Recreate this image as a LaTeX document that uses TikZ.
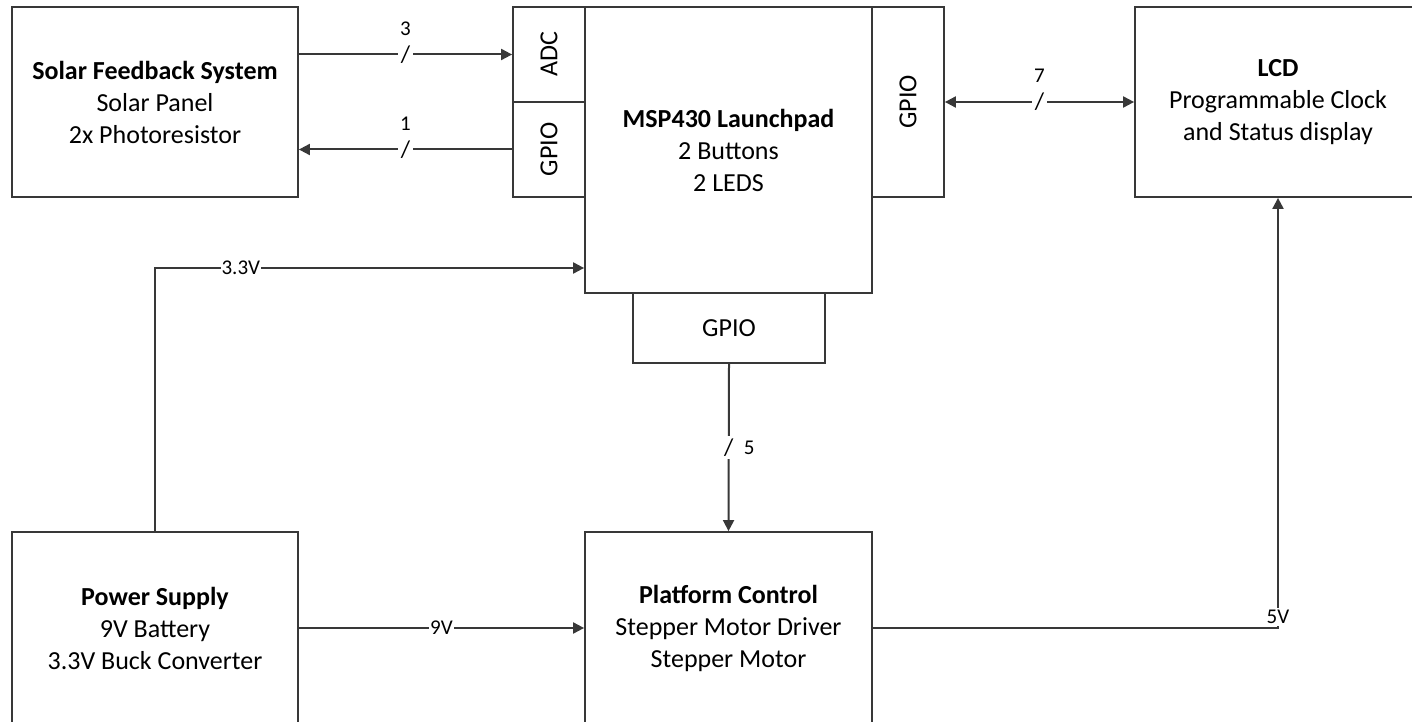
\documentclass[tikz,border=0pt]{standalone}
\usepackage{fontspec}
\setmainfont{Carlito}
\usetikzlibrary{arrows.meta}
\begin{document}
\begin{tikzpicture}[x=1pt,y=-1pt,
  blk/.style={draw=black!78, line width=1.8pt, fill=white, inner sep=0pt, align=center,
    font=\fontsize{26}{32}\selectfont},
  side/.style={blk, rotate=90},
  conn/.style={draw=black!78, line width=2pt},
  arr/.style={conn, -{Triangle[length=11pt,width=11pt]}},
  darr/.style={conn, {Triangle[length=11pt,width=11pt]}-{Triangle[length=11pt,width=11pt]}},
  lbl/.style={font=\fontsize{21}{24}\selectfont, inner sep=1pt},
  cut/.style={lbl, fill=white, inner xsep=3pt, inner ysep=1pt},
  slsh/.style={fill=white, inner xsep=3pt, inner ysep=0pt, font=\fontsize{24}{26}\selectfont}]
\useasboundingbox (0,0) rectangle (1412,722);
\clip (0,0) rectangle (1412,722);
% blocks
\node[blk, minimum width=286pt, minimum height=190pt] (solar) at (155,102)
  {\textbf{Solar Feedback System}\\Solar Panel\\2x Photoresistor};
\node[blk, minimum width=287pt, minimum height=286pt] (msp) at (728.5,150)
  {\textbf{MSP430 Launchpad}\\2 Buttons\\2 LEDS};
\node[side, minimum width=95pt, minimum height=72pt] (adc) at (549,54.5) {ADC};
\node[side, minimum width=95pt, minimum height=72pt] (gpiol) at (549,149.5) {GPIO};
\node[side, minimum width=190pt, minimum height=72pt] (gpior) at (908,102) {GPIO};
\node[blk, minimum width=192pt, minimum height=70pt] (gpiob) at (729,328) {GPIO};
\node[blk, minimum width=286pt, minimum height=190pt] (lcd) at (1278,102)
  {\textbf{LCD}\\Programmable Clock\\and Status display};
\node[blk, minimum width=286pt, minimum height=192pt] (power) at (155,628)
  {\textbf{Power Supply}\\9V Battery\\3.3V Buck Converter};
\node[blk, minimum width=287pt, minimum height=192pt] (plat) at (728.5,628)
  {\textbf{Platform Control}\\Stepper Motor Driver\\Stepper Motor};
% connectors (rotated side boxes: north = left side, south = right side)
\draw[arr] (solar.east |- adc.center) -- (adc.north)
  node[midway, slsh] {/} node[midway, lbl, above=17pt] {3};
\draw[arr] (gpiol.north) -- (solar.east |- gpiol.center)
  node[midway, slsh] {/} node[midway, lbl, above=17pt] {1};
\draw[darr] (gpior.south) -- (lcd.west |- gpior.center)
  node[midway, slsh] {/} node[midway, lbl, above=17pt] {7};
\draw[arr] (gpiob.south) -- (plat.north)
  node[midway, slsh, inner xsep=0pt, inner ysep=3pt] {/} node[midway, lbl, right=13pt] {5};
\draw[arr] (power.north) |- ([yshift=-118pt]msp.west)
  node[pos=0.6, cut, inner xsep=1pt] {3.3V};
\draw[arr] (power.east) -- (plat.west)
  node[midway, cut, inner xsep=1pt] {9V};
\draw[arr] (plat.east) -| (lcd.south)
  node[pos=0.5, cut, yshift=11pt, inner sep=2pt] {5V};
\end{tikzpicture}
\end{document}
